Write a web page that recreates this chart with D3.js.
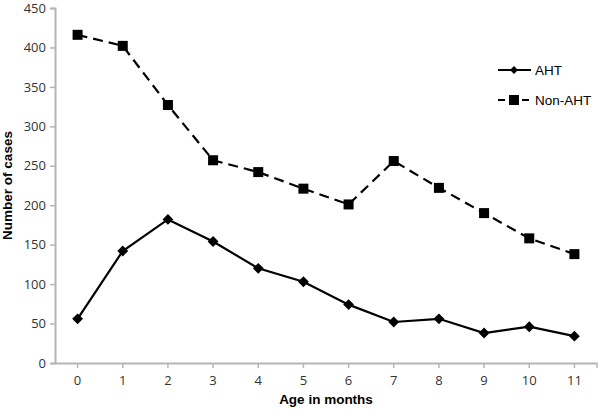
<!DOCTYPE html>
<html>
<head>
<meta charset="utf-8">
<title>AHT by age</title>
<style>
  body { margin: 0; background: #fff; }
  .tick text { font-family: "Open Sans", "Noto Sans", sans-serif; font-size: 13px; fill: #333; }
  .axis-title { font-family: "Liberation Sans", Arial, sans-serif; font-weight: bold; font-size: 13.5px; fill: #000; }
  .legend text { font-family: "Liberation Sans", Arial, sans-serif; font-size: 13.5px; fill: #000; }
</style>
</head>
<body>
<svg class="chart" width="600" height="409"></svg>
<script src="https://d3js.org/d3.v7.min.js"></script>
<script>
var months = [0, 1, 2, 3, 4, 5, 6, 7, 8, 9, 10, 11];
var aht = [56, 142, 182, 154, 120, 103, 74, 52, 56, 38, 46, 34];
var nonAht = [416, 402, 327, 257, 242, 221, 201, 256, 222, 190, 158, 138];
var yTicks = [0, 50, 100, 150, 200, 250, 300, 350, 400, 450];

var svg = d3.select(".chart");
var plotLeft = 55, plotRight = 597, plotTop = 8, plotBottom = 363;

var x = d3.scaleBand().domain(months).range([plotLeft, plotRight]);
var y = d3.scaleLinear().domain([0, 450]).range([plotBottom, plotTop]);
var cx = function(d) { return x(d) + x.bandwidth() / 2; };

// y axis
var yAxis = svg.append("g")
    .attr("transform", "translate(" + plotLeft + ",0)")
    .call(d3.axisLeft(y).tickValues(yTicks).tickSize(5).tickPadding(4));
yAxis.select(".domain").attr("stroke", "#b5b5b5").attr("stroke-width", 2);
yAxis.selectAll(".tick line").attr("stroke", "#b5b5b5").attr("stroke-width", 1.5);

// x axis
var xAxis = svg.append("g")
    .attr("transform", "translate(0," + plotBottom + ")")
    .call(d3.axisBottom(x).tickSize(5).tickSizeOuter(0).tickPadding(8));
xAxis.select(".domain").attr("stroke", "#b5b5b5").attr("stroke-width", 2);
xAxis.selectAll(".tick line").attr("stroke", "#b5b5b5").attr("stroke-width", 1.5);
xAxis.append("line")
    .attr("x1", plotRight).attr("x2", plotRight).attr("y1", 0).attr("y2", 5)
    .attr("stroke", "#b5b5b5").attr("stroke-width", 1.5);

// axis titles
svg.append("text").attr("class", "axis-title")
    .attr("x", 326).attr("y", 404).attr("text-anchor", "middle")
    .text("Age in months");
svg.append("text").attr("class", "axis-title")
    .attr("transform", "translate(12," + ((plotTop + plotBottom) / 2) + ") rotate(-90)")
    .attr("text-anchor", "middle")
    .text("Number of cases");

var line = d3.line()
    .x(function(d, i) { return cx(months[i]); })
    .y(function(d) { return y(d); });

// Non-AHT dashed with squares
svg.append("path").datum(nonAht)
    .attr("d", line).attr("fill", "none")
    .attr("stroke", "#000").attr("stroke-width", 2.2)
    .attr("stroke-dasharray", "10,6");
svg.append("g").selectAll("rect").data(nonAht).enter().append("rect")
    .attr("x", function(d, i) { return cx(months[i]) - 5; })
    .attr("y", function(d) { return y(d) - 5; })
    .attr("width", 10).attr("height", 10).attr("fill", "#000");

// AHT solid with diamonds
var diamond = d3.symbol().type(d3.symbolDiamond2).size(75);
svg.append("path").datum(aht)
    .attr("d", line).attr("fill", "none")
    .attr("stroke", "#000").attr("stroke-width", 2.2);
svg.append("g").selectAll("path").data(aht).enter().append("path")
    .attr("d", diamond)
    .attr("transform", function(d, i) { return "translate(" + cx(months[i]) + "," + y(d) + ")"; })
    .attr("fill", "#000");

// legend
var legend = svg.append("g").attr("class", "legend");
legend.append("line").attr("x1", 498).attr("x2", 531).attr("y1", 70).attr("y2", 70)
    .attr("stroke", "#000").attr("stroke-width", 2.2);
legend.append("path").attr("d", d3.symbol().type(d3.symbolDiamond2).size(40))
    .attr("transform", "translate(514,70)").attr("fill", "#000");
legend.append("text").attr("x", 535).attr("y", 75).text("AHT");
legend.append("line").attr("x1", 498).attr("x2", 531).attr("y1", 100).attr("y2", 100)
    .attr("stroke", "#000").attr("stroke-width", 2.2).attr("stroke-dasharray", "7,5");
legend.append("rect").attr("x", 509).attr("y", 95).attr("width", 10).attr("height", 10).attr("fill", "#000");
legend.append("text").attr("x", 535).attr("y", 105).text("Non-AHT");
</script>
</body>
</html>
